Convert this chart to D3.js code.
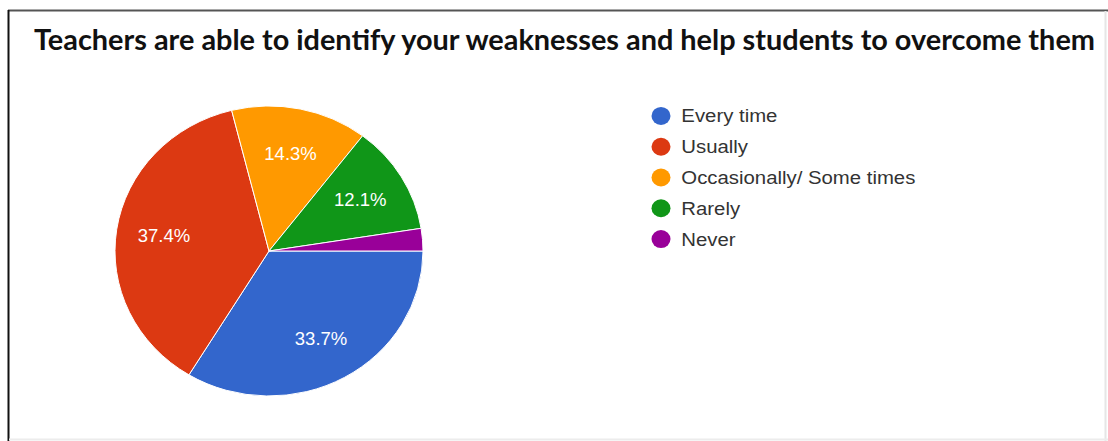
<!DOCTYPE html>
<html><head><meta charset="utf-8">
<script src="https://cdn.jsdelivr.net/npm/d3@7"></script>
<style>html,body{margin:0;padding:0;background:#fff;}svg{display:block;}</style>
</head><body>
<svg id="c" width="1108" height="441"></svg>
<script>
const title = "Teachers are able to identify your weaknesses and help students to overcome them";
const categories = ["Every time", "Usually", "Occasionally/ Some times", "Rarely", "Never"];
const values = [33.7, 37.4, 14.3, 12.1, 2.5];
const colors = ["#3366cc", "#dc3912", "#ff9900", "#109618", "#990099"];

const svg = d3.select("#c");
// frame
svg.append("rect").attr("x", 0).attr("y", 0).attr("width", 1108).attr("height", 441).attr("fill", "#fff");
svg.append("line").attr("x1", 8).attr("x2", 1108).attr("y1", 10.5).attr("y2", 10.5).attr("stroke", "#555").attr("stroke-width", 2);
svg.append("line").attr("x1", 8.5).attr("x2", 8.5).attr("y1", 10).attr("y2", 441).attr("stroke", "#111").attr("stroke-width", 2);
svg.append("line").attr("x1", 1105.5).attr("x2", 1105.5).attr("y1", 11).attr("y2", 441).attr("stroke", "#e6e6e6").attr("stroke-width", 2);
svg.append("line").attr("x1", 9).attr("x2", 1108).attr("y1", 439.5).attr("y2", 439.5).attr("stroke", "#ececec").attr("stroke-width", 2);

svg.append("text").attr("x", 34).attr("y", 49.5)
  .attr("font-family", "Lato, 'Open Sans', sans-serif").attr("font-weight", "bold").attr("font-size", 28)
  .attr("fill", "#111").attr("textLength", 1061).attr("lengthAdjust", "spacingAndGlyphs")
  .text(title);

const cx = 269, cy = 251, rx = 154, ry = 145;
const pie = d3.pie().sort(null).startAngle(Math.PI / 2).endAngle(Math.PI / 2 + 2 * Math.PI);
const arcs = pie(values);
const arc = d3.arc().innerRadius(0).outerRadius(rx);
const labelArc = d3.arc().innerRadius(rx * 0.69).outerRadius(rx * 0.69);
const g = svg.append("g").attr("transform", `translate(${cx},${cy})`);
g.append("g").attr("transform", `scale(1,${ry / rx})`)
  .selectAll("path").data(arcs).join("path")
  .attr("d", arc).attr("fill", (d, i) => colors[i]).attr("stroke", "#fff").attr("stroke-width", 1)
  .attr("vector-effect", "non-scaling-stroke");
g.selectAll("text").data(arcs.filter(d => d.data >= 5)).join("text")
  .attr("transform", d => { const c = labelArc.centroid(d); return `translate(${c[0]},${c[1] * ry / rx})`; })
  .attr("text-anchor", "middle").attr("dy", "0.35em")
  .attr("font-family", "Arial, 'Liberation Sans', sans-serif").attr("font-size", 18.5)
  .attr("fill", "#fff")
  .text(d => d.data.toFixed(1) + "%");

const legend = svg.append("g");
const ly = d3.scaleBand().domain(categories).range([100.6, 254.4]);
const items = legend.selectAll("g").data(categories).join("g")
  .attr("transform", d => `translate(661,${ly(d) + ly.bandwidth() / 2})`);
items.append("ellipse").attr("rx", 9.5).attr("ry", 9).attr("fill", (d, i) => colors[i]);
items.append("text").attr("x", 18.5).attr("dy", "0.35em")
  .attr("font-family", "Arial, 'Liberation Sans', sans-serif").attr("font-size", 18.5)
  .attr("transform", "scale(1.1,1)")
  .attr("fill", "#333").text(d => d);
</script>
</body></html>
